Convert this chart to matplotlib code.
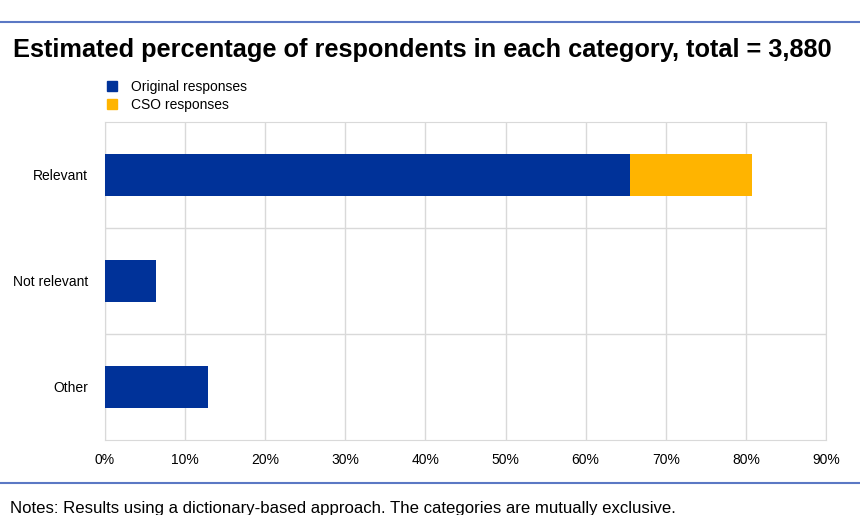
import matplotlib.pyplot as plt
from matplotlib.lines import Line2D
from matplotlib.patches import Patch

categories = ['Relevant', 'Not relevant', 'Other']
original = [65.5, 6.4, 12.9]
cso = [15.3, 0, 0]
xticks = [0, 10, 20, 30, 40, 50, 60, 70, 80, 90]

blue = '#003299'
orange = '#ffb400'
line_col = '#5b78c4'

fig = plt.figure(figsize=(8.6, 5.15), dpi=100)
W, H = 860, 515

def fx(px):
    return px / W

def fy(py):
    return 1 - py / H

# rules above and below the chart
fig.add_artist(Line2D([0, 1], [fy(22), fy(22)], color=line_col, lw=1.5))
fig.add_artist(Line2D([0, 1], [fy(483), fy(483)], color=line_col, lw=1.5))

fig.text(fx(13), fy(57), 'Estimated percentage of respondents in each category, total = 3,880',
         fontsize=18.3, fontweight='bold', family='Liberation Sans',
         va='baseline', ha='left')

ax = fig.add_axes([fx(105), fy(440), fx(826) - fx(105), fy(122) - fy(440)])
ypos = list(range(len(categories)))
ax.barh(ypos, original, height=0.4, color=blue, zorder=3)
ax.barh(ypos, cso, left=original, height=0.4, color=orange, zorder=3)

ax.set_xlim(0, 90)
ax.set_ylim(2.5, -0.5)
ax.set_xticks(xticks)
ax.set_xticklabels([f'{t}%' for t in xticks], family='Liberation Sans', fontsize=10)
ax.set_yticks(ypos)
ax.set_yticklabels(categories, family='Liberation Sans', fontsize=10)
ax.set_yticks([0.5, 1.5], minor=True)
ax.tick_params(axis='both', which='both', length=0)
ax.tick_params(axis='x', pad=9)
ax.tick_params(axis='y', pad=12)
ax.grid(axis='x', which='major', color='#d9d9d9', lw=1, zorder=0)
ax.grid(axis='y', which='minor', color='#d9d9d9', lw=1, zorder=0)
for s in ax.spines.values():
    s.set_color('#d9d9d9')

handles = [Patch(color=blue, label='Original responses'),
           Patch(color=orange, label='CSO responses')]
fig.legend(handles=handles, loc='upper left', bbox_to_anchor=(fx(97), fy(70)),
           frameon=False, prop={'family': 'Liberation Sans', 'size': 10},
           handlelength=0.75, handleheight=0.75, handletextpad=1.0, labelspacing=0.3,
           borderpad=0.2)

fig.text(fx(10), fy(513), 'Notes: Results using a dictionary-based approach. The categories are mutually exclusive.',
         fontsize=12.1, family='Liberation Sans', va='baseline', ha='left')

fig.savefig('out.png', dpi=100, facecolor='white')
